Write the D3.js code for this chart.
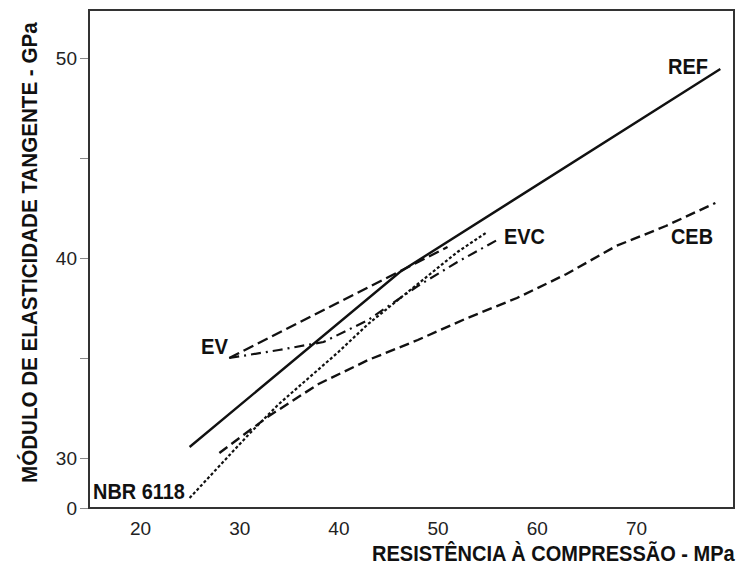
<!DOCTYPE html>
<html lang="pt">
    <head>
        <title>Modulo de elasticidade x resistencia</title>
        <script src="https://d3js.org/d3.v7.min.js"></script>
        <style>
            body { margin: 0; background: #fff; }
            text { font-family: "Liberation Sans", Arial, sans-serif; }
        </style>
    </head>
    <body>
    <div id="mainDiv"></div>

        <script type="text/javascript">
            // values (x = fck MPa, y = E GPa)
            const refX = [25, 46.2, 78.5]
            const refY = [30.55, 39.3, 49.45]

            const cebX = [28, 33, 38, 43, 48, 53, 58, 63, 68, 73, 78]
            const cebY = [30.25, 32.1, 33.7, 34.9, 35.9, 37.0, 38.0, 39.2, 40.6, 41.6, 42.75]

            const nbrX = [25, 28, 31, 34, 37, 40, 43, 46, 49, 52, 55]
            const nbrY = [28.0, 29.6, 31.2, 32.7, 34.0, 35.3, 36.7, 37.9, 39.1, 40.3, 41.3]

            const evX = [29, 51]
            const evY = [35.0, 40.55]

            const evcX = [29, 34, 38.5, 43, 48, 52, 56]
            const evcY = [35.0, 35.4, 35.8, 36.9, 38.6, 39.8, 40.9]

            const xTicks = [20, 30, 40, 50, 60, 70]
            const yTicks = [27.5, 30, 35, 40, 45, 50]
            const yTickLabels = ['0', '30', '', '40', '', '50']

            const width = 737
            const height = 567

            const margins = { top: 10, bottom: 59, left: 89, right: 2 }

            const svg = d3.select('#mainDiv').append('svg')
                .attr('width', width)
                .attr('height', height)

            const x = d3.scaleLinear()
                .domain([20, 70])
                .range([140, 636])

            const y = d3.scaleLinear()
                .domain([27.5, 40])
                .range([508, 258])

            const toPts = (xs, ys) => xs.map((v, i) => [v, ys[i]])

            const line = d3.line()
                .x(d => x(d[0]))
                .y(d => y(d[1]))

            const series = [
                { pts: toPts(refX, refY), dash: null, w: 2.4 },
                { pts: toPts(cebX, cebY), dash: '10,5', w: 2.4 },
                { pts: toPts(nbrX, nbrY), dash: '3,2.2', w: 2.2 },
                { pts: toPts(evX, evY), dash: '11,5', w: 2.4 },
                { pts: toPts(evcX, evcY), dash: '10,5,2,5', w: 2.2 }
            ]

            svg.selectAll('path.serie')
                .data(series)
                .enter()
                .append('path')
                .attr('class', 'serie')
                .attr('d', d => line(d.pts))
                .attr('fill', 'none')
                .attr('stroke', '#111')
                .attr('stroke-width', d => d.w)
                .attr('stroke-dasharray', d => d.dash)

            // y axis ticks (broken axis, bottom tick labelled 0)
            const yAxis = d3.axisLeft(y)
                .tickValues(yTicks)
                .tickFormat((d, i) => yTickLabels[i])
                .tickSize(9)
                .tickPadding(3)

            const gy = svg.append('g')
                .attr('transform', `translate(${margins.left},0)`)
                .call(yAxis)
            gy.select('.domain').remove()
            gy.selectAll('line').attr('stroke', '#888').attr('stroke-width', 1)
            gy.selectAll('text')
                .attr('font-size', 19)
                .attr('fill', '#222')
                .style('font-family', '"Liberation Sans", Arial, sans-serif')

            // x axis labels only
            const xAxis = d3.axisBottom(x)
                .tickValues(xTicks)
                .tickSize(0)
                .tickPadding(14)

            const gx = svg.append('g')
                .attr('transform', `translate(0,${height - margins.bottom})`)
                .call(xAxis)
            gx.select('.domain').remove()
            gx.selectAll('text')
                .attr('font-size', 19)
                .attr('fill', '#222')
                .style('font-family', '"Liberation Sans", Arial, sans-serif')

            // frame
            svg.append('rect')
                .attr('x', margins.left)
                .attr('y', margins.top)
                .attr('width', width - margins.left - margins.right - 1)
                .attr('height', height - margins.top - margins.bottom)
                .attr('fill', 'none')
                .attr('stroke', '#333')
                .attr('stroke-width', 2)

            // bold condensed text: squeeze horizontally to a target width
            function narrowText(t, px, py, len, rot, size) {
                const el = svg.append('text')
                    .attr('font-size', size)
                    .attr('font-weight', 'bold')
                    .attr('fill', '#111')
                    .text(t)
                const w = el.node().getComputedTextLength()
                el.attr('transform', `translate(${px},${py}) rotate(${rot}) scale(${len / w},1)`)
                return el
            }

            // series labels
            narrowText('REF', 668, 74, 40, 0, 22)
            narrowText('CEB', 671, 244, 42, 0, 22)
            narrowText('EVC', 504, 244, 41, 0, 22)
            narrowText('EV', 201, 354, 27, 0, 22)
            narrowText('NBR 6118', 93, 499, 92, 0, 22)

            // axis titles
            narrowText('RESISTÊNCIA À COMPRESSÃO - MPa', 372, 561, 363, 0, 22)
            narrowText('MÓDULO DE ELASTICIDADE TANGENTE - GPa', 37, 483, 461, -90, 22)
        </script>
    </body>
</html>
